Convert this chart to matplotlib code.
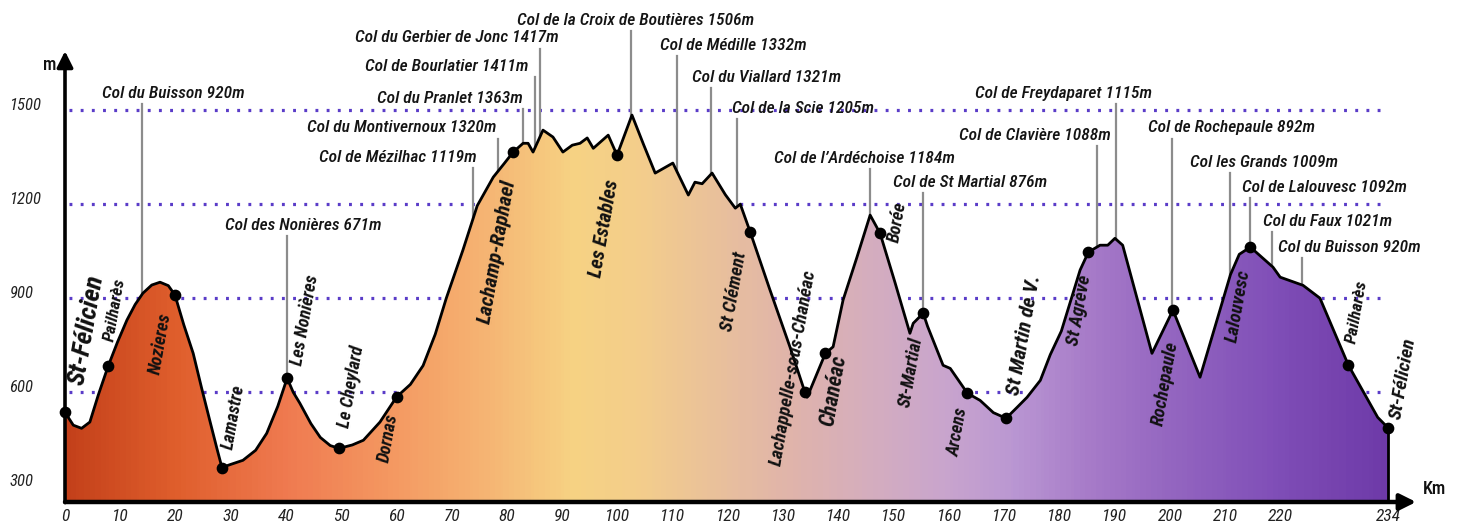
import numpy as np
import matplotlib
matplotlib.use("Agg")
import matplotlib.pyplot as plt
import matplotlib.font_manager as fm
from matplotlib.colors import LinearSegmentedColormap
from matplotlib.patches import Polygon

# ---------------- data ----------------
profile_km = [0, 1.5, 3.0, 4.5, 6.0, 7.8, 9.5, 11.2, 12.7, 14.1, 15.7, 17.2, 18.7, 19.9,
              21.5, 23.2, 24.7, 26.2, 27.5, 28.4, 30.0, 32.2, 34.5, 36.5, 38.5, 40.2,
              41.3, 42.5, 44.5, 46.2, 48.0, 49.6, 52.0, 54.0, 57.0, 60.0, 62.5, 64.8,
              67.0, 69.0, 72.0, 74.6, 77.5, 79.5, 81.1, 82.9, 83.8, 84.7, 86.5, 88.3,
              90.1, 91.8, 93.2, 94.5, 95.6, 98.3, 99.9, 102.6, 104.7, 106.8, 110.0,
              112.8, 114.0, 115.3, 117.1, 119.5, 121.3, 122.2, 124.0, 127.5, 131.2,
              133.9, 134.3, 137.6, 139.0, 140.8, 143.3, 145.7, 147.5, 150.2, 152.9,
              153.5, 155.3, 156.1, 158.9, 160.2, 163.3, 165.6, 168.0, 170.3, 172.3,
              174.1, 176.5, 178.3, 180.3, 183.7, 185.2, 187.3, 188.7, 190.0, 191.4,
              196.7, 200.5, 205.4, 210.9, 212.5, 214.5, 218.6, 219.9, 222.9, 225.1,
              228.8, 232.6, 234.0]
profile_m = [536, 495, 485, 505, 590, 683, 760, 830, 880, 916, 942, 951, 940, 910,
             815, 724, 615, 510, 420, 360, 370, 383, 415, 469, 555, 645,
             600, 565, 500, 456, 430, 421, 432, 447, 505, 585, 625, 685,
             785, 900, 1053, 1195, 1286, 1330, 1366, 1394, 1394, 1366, 1436, 1414,
             1366, 1388, 1394, 1411, 1378, 1420, 1356, 1484, 1390, 1299, 1331,
             1229, 1270, 1265, 1299, 1230, 1187, 1200, 1111, 930, 744,
             600, 584, 724, 745, 894, 1030, 1165, 1107, 950, 788,
             820, 852, 810, 686, 676, 597, 574, 535, 517, 552,
             584, 638, 720, 795, 990, 1047, 1069, 1069, 1091, 1069,
             724, 862, 648, 975, 1040, 1063, 999, 967, 941, 900,
             686, 520, 485]

town_names = ["St-Félicien", "Pailharès", "Nozieres", "Lamastre", "Les Nonières",
              "Le Cheylard", "Dornas", "Lachamp-Raphael", "Les Estables", "St Clément",
              "Lachappelle-sous-Chanéac", "Chanéac", "Borée", "St-Martial", "Arcens",
              "St Martin de V.", "St Agrève", "Rochepaule", "Lalouvesc", "Pailharès",
              "St-Félicien"]
town_km = [0, 7.8, 19.9, 28.4, 40.2, 49.6, 60.0, 81.1, 99.9, 124.0, 133.9, 137.6,
           147.5, 155.3, 163.3, 170.3, 185.2, 200.5, 214.5, 228.8, 234.0]
town_m = [536, 683, 910, 360, 645, 421, 585, 1366, 1356, 1111, 600, 724,
          1107, 852, 597, 517, 1047, 862, 1063, 686, 485]

col_names = ["Col du Buisson 920m", "Col des Nonières 671m", "Col de Mézilhac 1119m",
             "Col du Montivernoux 1320m", "Col du Pranlet 1363m", "Col de Bourlatier 1411m",
             "Col du Gerbier de Jonc 1417m", "Col de la Croix de Boutières 1506m",
             "Col de Médille 1332m", "Col du Viallard 1321m", "Col de la Scie 1205m",
             "Col de l\u2019Ardéchoise 1184m", "Col de St Martial 876m",
             "Col de Freydaparet 1115m", "Col de Clavière 1088m", "Col de Rochepaule 892m",
             "Col les Grands 1009m", "Col de Lalouvesc 1092m", "Col du Faux 1021m",
             "Col du Buisson 920m"]
col_km = [13.9, 40.2, 73.8, 78.4, 82.9, 85.1, 86.0, 102.4, 110.8, 116.9, 121.6,
          145.7, 155.3, 190.2, 186.8, 200.4, 210.9, 214.5, 218.5, 222.7]

x_ticks = [0, 10, 20, 30, 40, 50, 60, 70, 80, 90, 100, 110, 120, 130, 140, 150,
           160, 170, 180, 190, 200, 210, 220, 234]
y_ticks = [300, 600, 900, 1200, 1500]
grid_levels = [600, 900, 1200, 1500]

# ---------------- layout ----------------
# col label anchor (left edge km, centre altitude)
col_label_pos = [(6.7, 1554), (29.0, 1133), (46.0, 1350), (43.8, 1443), (56.5, 1538),
                 (54.3, 1640), (52.5, 1730), (81.8, 1787), (107.7, 1707), (113.5, 1605),
                 (120.7, 1506), (128.3, 1347), (149.9, 1270), (164.7, 1554), (161.8, 1420),
                 (196.0, 1443), (203.6, 1334), (213.0, 1254), (216.8, 1146), (219.5, 1063)]
# town label centre (km, m), font size
town_label_pos = [(3.9, 798, 19), (9.0, 862, 12.5), (17.2, 756, 13), (30.6, 520, 13),
                  (43.4, 830, 13), (51.9, 616, 13), (58.5, 453, 13), (78.2, 1047, 15),
                  (97.6, 1123, 14.5), (121.1, 922, 13.5), (131.8, 680, 13.5), (139.0, 606, 15.5),
                  (150.6, 1143, 13), (153.1, 664, 13), (161.6, 472, 13), (173.6, 782, 15),
                  (183.5, 862, 13.5), (199.1, 629, 13.5), (212.3, 874, 13.5), (229.9, 858, 12.5),
                  (236.7, 645, 14)]

# ---------------- fonts ----------------
names = {f.name for f in fm.fontManager.ttflist}
FONT = None
for cand in ["Liberation Sans Narrow", "Roboto Condensed", "Open Sans Condensed", "Roboto"]:
    if cand in names:
        FONT = cand
        break
if FONT is None:
    FONT = "DejaVu Sans"
plt.rcParams["font.family"] = [FONT, "DejaVu Sans"]

# ---------------- figure ----------------
W, H = 1457, 529
fig = plt.figure(figsize=(W / 100, H / 100), dpi=100)
fig.patch.set_facecolor("white")
x0_px, base_px = 65, 502
ax = fig.add_axes([x0_px / W, (H - base_px) / H, 1 - x0_px / W, base_px / H])

SRC = [-100.0, 0.0, 220.0, 234.0, 400.0]
DST = [-100.0, 0.0, 220.0, 239.5, 405.5]
fwd = lambda x: np.interp(x, SRC, DST)
inv = lambda x: np.interp(x, DST, SRC)
ax.set_xscale("function", functions=(fwd, inv))
ax.set_xlim(0, 246.4)
ax.set_ylim(250, 1851)
for s in ax.spines.values():
    s.set_visible(False)
ax.set_facecolor("none")

# grid lines (behind fill)
ax.hlines(grid_levels, 0.8, 234, colors="#5a3cc8", linestyles=(0, (0.9, 2.6)), lw=2.3, zorder=1)

# gradient fill clipped to profile
stops = [(0, "#c3401a"), (20, "#df5e2c"), (40, "#ef7a50"), (60, "#f49a62"), (76, "#f5b473"),
         (92, "#f6d283"), (104, "#f3cd8b"), (118, "#e9c09b"), (132, "#dfb3ab"),
         (146, "#d4adbe"), (160, "#c8a4cd"), (172, "#b996d2"), (186, "#a67ac8"),
         (200, "#9466c0"), (218, "#8150b8"), (234, "#6e3aa8")]
cmap = LinearSegmentedColormap.from_list("route", [(k / 234, c) for k, c in stops])
xe = np.linspace(0, 234, 470)
ye = np.array([250, 1600])
C = ((xe[:-1] + xe[1:]) / 2 / 234)[None, :]
mesh = ax.pcolormesh(xe, ye, C, cmap=cmap, vmin=0, vmax=1, shading="flat", zorder=2,
                     antialiased=False, rasterized=True)
verts = [(0, 250)] + list(zip(profile_km, profile_m)) + [(234, 250)]
clip = Polygon(verts, closed=True, transform=ax.transData)
mesh.set_clip_path(clip)

# profile line
ax.plot(profile_km, profile_m, color="black", lw=2.0, zorder=4, solid_joinstyle="round")
ax.plot([234, 234], [250, profile_m[-1]], color="black", lw=2.0, zorder=4)

# leaders and col labels
for name, km, (lx, ly) in zip(col_names, col_km, col_label_pos):
    top = ly - 36
    bottom = float(np.interp(km, profile_km, profile_m))
    ax.plot([km, km], [bottom, top], color="#8c8c8c", lw=1.6, zorder=3)
    ax.text(lx, ly, name, ha="left", va="center", fontsize=12.5, style="italic",
            fontweight="medium", color="#141414", zorder=6)

# town dots and labels
ax.scatter(town_km, town_m, s=55, color="black", zorder=5, clip_on=False)
for name, (lx, ly, fs) in zip(town_names, town_label_pos):
    ax.text(lx, ly, name, ha="center", va="center", rotation=80, rotation_mode="anchor",
            fontsize=fs, style="italic", fontweight="bold", color="#111111", zorder=6,
            clip_on=False)

# axes arrows
ax.annotate("", xy=(0, 1688), xytext=(0, 248),
            arrowprops=dict(arrowstyle="-|>", lw=2.6, color="black", mutation_scale=24,
                            shrinkA=0, shrinkB=0), zorder=7, annotation_clip=False)
ax.annotate("", xy=(239.0, 250), xytext=(0, 250),
            arrowprops=dict(arrowstyle="-|>", lw=3.2, color="black", mutation_scale=24,
                            shrinkA=0, shrinkB=0), zorder=7, annotation_clip=False)
ax.text(-2.8, 1645, "m", ha="center", va="center", fontsize=13, fontweight="medium",
        color="#111", clip_on=False)
ax.text(242.3, 292, "Km", ha="center", va="center", fontsize=13, fontweight="medium",
        color="#111", clip_on=False)

# ticks
ax.set_xticks(x_ticks)
ax.set_xticklabels([str(t) for t in x_ticks])
ax.set_yticks(y_ticks)
ax.set_yticklabels([str(t) for t in y_ticks])
ax.tick_params(axis="x", length=0, pad=5, labelsize=12.5, labelcolor="#222")
ax.tick_params(axis="y", length=0, pad=40, labelsize=12, labelcolor="#222")
for lbl in ax.get_xticklabels() + ax.get_yticklabels():
    lbl.set_fontstyle("italic")
for lbl in ax.get_yticklabels():
    lbl.set_ha("left")
    lbl.set_va("baseline")
ax.minorticks_off()

fig.savefig("out.png", dpi=100, facecolor="white")
